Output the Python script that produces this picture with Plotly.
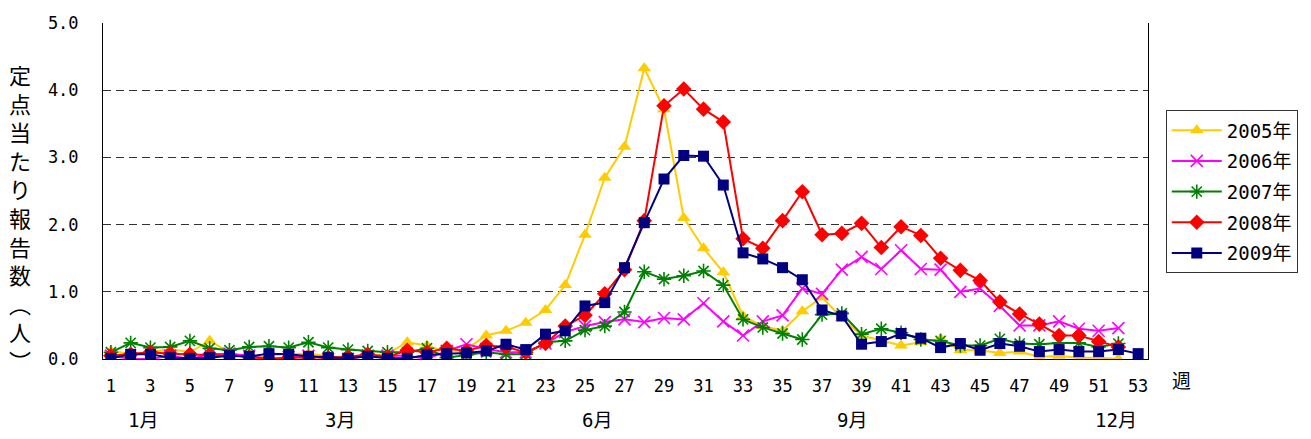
import plotly.graph_objects as go

weeks = list(range(1, 54))

y2005 = [0.12, 0.08, 0.10, 0.15, 0.10, 0.27, 0.10, 0.00, 0.05, 0.08,
         0.08, 0.05, 0.00, 0.05, 0.08, 0.25, 0.20, 0.10, 0.15, 0.35,
         0.42, 0.54, 0.73, 1.10, 1.85, 2.70, 3.16, 4.33, 3.72, 2.10,
         1.65, 1.29, 0.64, 0.49, 0.42, 0.71, 0.92, 0.61, 0.35, 0.27,
         0.20, 0.25, 0.30, 0.13, 0.13, 0.09, 0.11, 0.03, 0.05, 0.02,
         0.02, 0.00]
y2006 = [0.05, 0.00, 0.00, 0.05, 0.00, 0.07, 0.08, 0.05, 0.00, 0.03,
         0.05, 0.00, 0.00, 0.05, 0.05, 0.05, 0.00, 0.12, 0.22, 0.15,
         0.10, 0.10, 0.23, 0.40, 0.49, 0.55, 0.59, 0.55, 0.61, 0.59,
         0.83, 0.56, 0.35, 0.56, 0.65, 1.05, 0.97, 1.33, 1.52, 1.34,
         1.62, 1.34, 1.33, 1.00, 1.05, 0.79, 0.50, 0.50, 0.56, 0.45,
         0.42, 0.46]
y2007 = [0.10, 0.24, 0.17, 0.18, 0.27, 0.16, 0.13, 0.18, 0.19, 0.17,
         0.25, 0.17, 0.14, 0.12, 0.10, 0.10, 0.16, 0.02, 0.06, 0.10,
         0.07, 0.07, 0.25, 0.27, 0.43, 0.49, 0.70, 1.30, 1.19, 1.24,
         1.31, 1.10, 0.59, 0.47, 0.38, 0.29, 0.66, 0.68, 0.37, 0.45,
         0.39, 0.29, 0.27, 0.20, 0.20, 0.30, 0.23, 0.22, 0.24, 0.24,
         0.18, 0.23]
y2008 = [0.05, 0.07, 0.10, 0.08, 0.07, 0.07, 0.05, 0.03, 0.00, 0.02,
         0.02, 0.02, 0.03, 0.07, 0.03, 0.13, 0.10, 0.16, 0.12, 0.20,
         0.18, 0.10, 0.23, 0.49, 0.65, 0.97, 1.33, 2.06, 3.77, 4.02,
         3.72, 3.53, 1.79, 1.65, 2.06, 2.49, 1.85, 1.87, 2.02, 1.66,
         1.97, 1.84, 1.50, 1.32, 1.17, 0.85, 0.67, 0.52, 0.35, 0.35,
         0.26, 0.18]
y2009 = [0.01, 0.07, 0.07, 0.02, 0.01, 0.02, 0.05, 0.04, 0.08, 0.07,
         0.04, 0.02, 0.01, 0.04, 0.01, 0.01, 0.06, 0.08, 0.09, 0.12,
         0.22, 0.14, 0.37, 0.42, 0.79, 0.84, 1.36, 2.03, 2.68, 3.03,
         3.02, 2.59, 1.58, 1.49, 1.36, 1.18, 0.73, 0.64, 0.22, 0.26,
         0.38, 0.31, 0.17, 0.23, 0.13, 0.23, 0.19, 0.11, 0.14, 0.11,
         0.11, 0.14, 0.08]

series_names = ["2005年", "2006年", "2007年", "2008年", "2009年"]
series_values = [y2005, y2006, y2007, y2008, y2009]
colors = ["#FFCC00", "#FF00FF", "#008000", "#FF0000", "#000080"]
symbols = ["triangle-up", "x-thin-open", "asterisk-open", "diamond", "square"]
msizes = [12, 12, 12, 12, 11]

x_tick_vals = list(range(1, 54, 2))
y_tick_vals = [0, 1, 2, 3, 4, 5]
y_tick_text = ["0.0", "1.0", "2.0", "3.0", "4.0", "5.0"]
month_labels = ["1月", "3月", "6月", "9月", "12月"]
month_pos = [2.6, 12.6, 25.6, 38.5, 51.9]
y_title = "定点当たり報告数︵人︶"

FONT = "DejaVu Sans Mono, Noto Sans CJK JP"
CJK = "Noto Sans CJK JP"

fig = go.Figure()
for i, (name, vals, c, s, ms) in enumerate(zip(series_names, series_values, colors, symbols, msizes)):
    open_sym = s.endswith("open")
    fig.add_trace(go.Scatter(
        x=weeks[:len(vals)], y=vals, name=name, mode="lines+markers",
        legendgroup="g%d" % i,
        line=dict(color=c, width=2),
        marker=dict(symbol=s, size=ms, color=c,
                    line=dict(color=c, width=1.6 if open_sym else 0)),
    ))

fig.update_layout(
    width=1303, height=431,
    margin=dict(l=95, r=163, t=5, b=80),
    paper_bgcolor="white", plot_bgcolor="white",
    font=dict(family=FONT, size=17, color="black"),
    showlegend=True,
    legend=dict(x=1.017, y=0.74, xanchor="left", yanchor="top",
                bordercolor="#333333", borderwidth=1, itemwidth=50,
                font=dict(family=FONT, size=19), tracegroupgap=3),
)
fig.update_xaxes(
    range=[0.6, 53.5], tickvals=x_tick_vals, ticks="",
    ticklabelstandoff=12,
    showline=True, linecolor="black", linewidth=1, mirror=False,
    showgrid=False, zeroline=False,
    tickfont=dict(family=FONT, size=17),
)
fig.update_yaxes(
    range=[0, 5.003], tickvals=y_tick_vals, ticktext=y_tick_text,
    ticks="outside", ticklen=20, tickcolor="rgba(0,0,0,0)",
    ticklabeloverflow="allow",
    showline=True, linecolor="black", linewidth=1, mirror=True,
    showgrid=True, gridcolor="#333333", gridwidth=1, griddash="8px,5px",
    zeroline=False, tickfont=dict(family=FONT, size=17),
)

for lab, pos in zip(month_labels, month_pos):
    fig.add_annotation(x=pos, y=-0.182, xref="x", yref="paper", text=lab,
                       showarrow=False, font=dict(family=FONT, size=19),
                       xanchor="center", yanchor="middle")
fig.add_annotation(x=1.0325, y=-0.0607, xref="paper", yref="paper", text="週",
                   showarrow=False, font=dict(family=CJK, size=19),
                   xanchor="center", yanchor="middle")
fig.add_annotation(x=-0.0794, y=0.4234, xref="paper", yref="paper",
                   text="<br>".join(list(y_title)),
                   showarrow=False, font=dict(family=CJK, size=22),
                   xanchor="center", yanchor="middle", align="center")

fig.write_html("out.html")
